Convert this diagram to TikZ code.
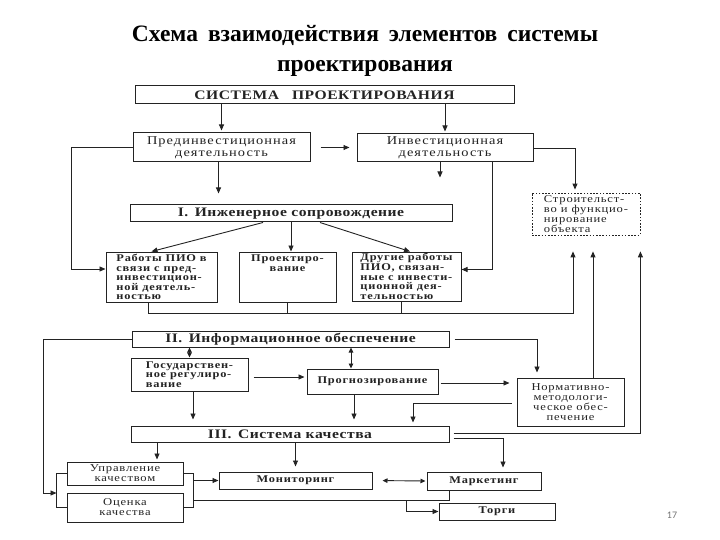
\documentclass[tikz,border=0pt]{standalone}
\usepackage{fontspec}
\setmainfont{Liberation Serif}
\newfontfamily\dfont[FakeStretch=1.2,LetterSpace=7.5]{Liberation Serif}
\newfontfamily\wfont[FakeStretch=1.2,LetterSpace=8.6]{Liberation Serif}
\newfontfamily\hfont[FakeStretch=1.2,LetterSpace=4]{Liberation Serif}
\newfontfamily\numfont{Carlito}
\usetikzlibrary{arrows.meta}
\definecolor{ink}{RGB}{35,35,35}
\tikzset{
  blk/.style={draw=ink, line width=1pt, inner sep=1pt, text=ink, align=center,
    font={\dfont\fontsize{10.5}{10}\selectfont}},
  wblk/.style={blk, font={\wfont\fontsize{12}{12}\selectfont}},
  bblk/.style={blk, font={\dfont\fontsize{10.3}{9.6}\selectfont\bfseries}},
  hdr/.style={blk, font={\hfont\fontsize{13}{13}\selectfont\bfseries}},
  dotted box/.style={blk, dash pattern=on 1.6pt off 1.6pt, line width=0.8pt},
  arr/.style={draw=ink, line width=0.9pt, -{Triangle[length=6pt,width=5pt]}},
  darr/.style={draw=ink, line width=0.9pt, {Triangle[length=5pt,width=4.5pt]}-{Triangle[length=5pt,width=4.5pt]}},
  wire/.style={draw=ink, line width=0.9pt}
}
% #1=extra style, #2=name, #3/#4=top left, #5/#6=bottom right, #7=text
\newcommand{\Blk}[7][]{%
  \node[blk,#1,minimum width={(#5-#3)*1pt},minimum height={(#6-#4)*1pt}]
    (#2) at ({(#3+#5)/2},{(#4+#6)/2}) {#7};%
}
\begin{document}
\begin{tikzpicture}[x=1pt,y=-1pt]
  \useasboundingbox (0,0) rectangle (720,540);
  % title
  \node[font={\fontsize{23.5}{30}\selectfont\bfseries\spaceskip=10pt}, align=center] (title) at (365,51)
    {Схема взаимодействия элементов системы\\проектирования};
  % I. engineering part
  \Blk[hdr]{sys}{135}{86}{514}{104}{СИСТЕМА\quad ПРОЕКТИРОВАНИЯ}
  \Blk[wblk]{pre}{133}{133}{310}{162}{Прединвестиционная\\деятельность}
  \Blk[wblk]{inv}{357}{134}{533}{162}{Инвестиционная\\деятельность}
  \Blk[bblk,dotted box,align=left]{str}{532}{193}{640}{235}{Строительст-\\во и функцио-\\нирование\\объекта}
  \Blk[hdr]{eng}{130}{205}{452}{222}{I.\enspace Инженерное сопровождение}
  \Blk[bblk,align=left]{rab}{106}{252}{217}{302}{Работы ПИО в\\связи с пред-\\инвестицион-\\ной деятель-\\ностью}
  \Blk[bblk]{prj}{239}{252}{336}{302}{}
  \node[bblk, draw=none, anchor=north, inner sep=3pt] (prjtxt) at (prj.north) {Проектиро-\\вание};
  \Blk[bblk,align=left]{dru}{352}{252}{461}{301}{Другие работы\\ПИО, связан-\\ные с инвести-\\ционной дея-\\тельностью}
  % II. information part
  \Blk[hdr]{inf}{132}{331}{449}{347}{II.\enspace Информационное обеспечение}
  \Blk[bblk,align=left]{gos}{131}{358}{248}{391}{Государствен-\\ное регулиро-\\вание}
  \Blk[bblk]{prg}{307}{369}{438}{394}{Прогнозирование}
  \Blk{nrm}{517}{378}{624}{426}{Нормативно-\\методологи-\\ческое обес-\\печение}
  % III. quality part
  \Blk[hdr]{qua}{131}{426}{449}{442}{III.\enspace Система качества}
  \Blk{upr}{67}{462}{183}{485}{Управление\\качеством}
  \Blk{ocn}{67}{493}{183}{522}{Оценка\\качества}
  \Blk[bblk]{mon}{219}{472}{372}{489}{Мониторинг}
  \Blk[bblk]{mar}{427}{472}{541}{490}{Маркетинг}
  \Blk[bblk]{trg}{439}{503}{555}{520}{Торги}
  \node[font={\numfont\fontsize{10}{12}\selectfont}, text=black!55] (pnum) at (672,515) {17};

  % connectors, top part
  \draw[arr, shorten >=2pt] (sys.south -| pre) -- (pre.north);
  \draw[arr, shorten >=2pt] (sys.south -| inv) -- (inv.north);
  \draw[arr, shorten <=10pt, shorten >=7pt] (pre.east) -- (pre.east -| inv.west);
  \draw[arr, shorten >=11pt] ([xshift=-3]pre.south) -- ([xshift=-3]pre.south |- eng.north);
  \draw[arr, shorten >=27pt] ([xshift=-5]inv.south) -- ([xshift=-5]inv.south |- eng.north);
  \draw[arr] ([xshift=47]inv.south) |- ([yshift=7]dru.east);
  \draw[arr, shorten >=3pt] (inv.east) -| ([xshift=-11]str.north);
  \draw[arr] (pre.west) -- ++(-61,0) |- ([yshift=8]rab.west);
  \draw[arr] ([xshift=-28]eng.south) -- ([xshift=-10]rab.north);
  \draw[arr] (eng.south) -- (eng.south |- prj.north);
  \draw[arr] ([xshift=29]eng.south) -- ([xshift=3.5]dru.north);
  \draw[arr, shorten >=16pt] ([xshift=-13.5]rab.south) -- ++(0,11) coordinate (busL)
    -| ([xshift=-13]str.south);
  \draw[wire] (prj.south) -- (prj.south |- busL);
  \draw[wire] ([xshift=-5]dru.south) -- ([xshift=-5]dru.south |- busL);
  \draw[arr, shorten >=16pt] ([xshift=7]str.south |- nrm.north) -- ([xshift=7]str.south);
  \draw[arr, shorten <=4pt, shorten >=16pt] ([yshift=1]qua.east) -| (str.south east);

  % connectors, information part
  \draw[darr] (inf.south -| gos) -- (gos.north);
  \draw[darr] ([xshift=-21.5]prg.north |- inf.south) -- ([xshift=-21.5]prg.north);
  \draw[arr, shorten <=5pt, shorten >=2pt] ([yshift=-2.5]gos.east) -- ([yshift=-2.5]gos.east -| prg.west);
  \draw[arr, shorten >=6pt] ([xshift=3.5]gos.south) -- ([xshift=3.5]gos.south |- qua.north);
  \draw[arr, shorten >=6pt] ([xshift=-18.5]prg.south) -- ([xshift=-18.5]prg.south |- qua.north);
  \draw[arr, shorten <=2pt, shorten >=7pt] ([yshift=-1.5]prg.east) -- ([yshift=-1.5]prg.east -| nrm.west);
  \draw[arr, shorten <=5pt, shorten >=5pt] (inf.east) -| ([xshift=-33.5]nrm.north);
  \draw[arr, shorten <=5pt, shorten >=3pt] ([yshift=-1]nrm.west) -| ([xshift=123]qua.north);

  % connectors, quality part
  \draw[wire] (upr.west) -- ++(-10,0) coordinate (brL) |- (ocn.west);
  \draw[wire] (upr.east) -- ++(10,0) coordinate (brR) |- (ocn.east);
  \coordinate (lbus) at (43,493);
  \draw[arr] (inf.west) -| (lbus) -- (lbus -| brL);
  \draw[arr, shorten >=2pt] ([xshift=32]upr.north |- qua.south) -- ([xshift=32]upr.north);
  \draw[arr, shorten >=5pt] (mon.north |- qua.south) -- (mon.north);
  \draw[arr, shorten <=4pt, shorten >=4pt] ([yshift=-4]qua.east) -| ([xshift=19]mar.north);
  \draw[arr] (brR |- mon.west) -- (mon.west);
  \draw[darr, shorten <=10pt, shorten >=1pt] (mon.east) -- (mar.west);
  \coordinate (tb) at (406,500);
  \draw[wire] (brR |- tb) -| ([xshift=-35]mar.south);
  \draw[arr] (tb) |- (trg.west);
\end{tikzpicture}
\end{document}
